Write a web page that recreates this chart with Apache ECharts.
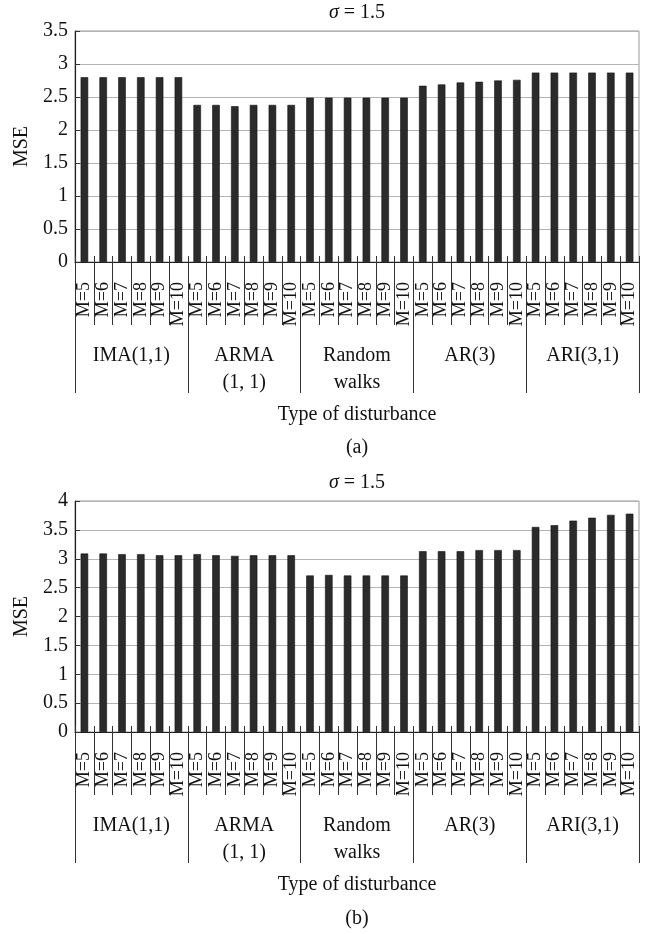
<!DOCTYPE html>
<html>
<head>
<meta charset="utf-8">
<script src="https://cdn.jsdelivr.net/npm/echarts@6/dist/echarts.min.js"></script>
<style>
  html, body { margin: 0; padding: 0; background: #fff; }
  #chart { width: 647px; height: 934px; }
</style>
</head>
<body>
<div id="chart"></div>
<script>
// data
const mLabels = ['M=5', 'M=6', 'M=7', 'M=8', 'M=9', 'M=10'];
const disturbances = ['IMA(1,1)', 'ARMA\n(1, 1)', 'Random\nwalks', 'AR(3)', 'ARI(3,1)'];
const mseA = [
    2.80, 2.80, 2.80, 2.80, 2.80, 2.80,
    2.38, 2.38, 2.36, 2.38, 2.38, 2.38,
    2.49, 2.49, 2.49, 2.49, 2.49, 2.49,
    2.67, 2.69, 2.72, 2.73, 2.75, 2.76,
    2.87, 2.87, 2.87, 2.87, 2.87, 2.87
];
const mseB = [
    3.09, 3.09, 3.08, 3.08, 3.06, 3.06,
    3.08, 3.06, 3.05, 3.06, 3.06, 3.06,
    2.71, 2.72, 2.71, 2.71, 2.71, 2.71,
    3.13, 3.13, 3.13, 3.15, 3.15, 3.15,
    3.55, 3.58, 3.66, 3.71, 3.76, 3.78
];
const yMaxA = 3.5;
const yMaxB = 4;
const sigmaText = '{i|σ} = 1.5';
const panelLabels = ['(a)', '(b)'];

const FONT = "'Liberation Serif', 'Times New Roman', serif";
const chart = echarts.init(document.getElementById('chart'));

// one slot per bar, names kept unique, label text comes from mLabels
const slots = [];
disturbances.forEach((d, gi) => {
    mLabels.forEach((m, mi) => slots.push(gi + '|' + mi));
});

function xAxesFor(gridIndex) {
    return [{
        // M=.. level
        type: 'category',
        gridIndex: gridIndex,
        position: 'bottom',
        data: slots,
        axisLine: { show: true, onZero: false, lineStyle: { color: '#222', width: 1.2 } },
        axisTick: { show: true, interval: 0, length: 63, lineStyle: { color: '#333', width: 1 } },
        axisLabel: {
            interval: 0,
            rotate: 90,
            margin: 20,
            color: '#111',
            fontFamily: FONT,
            fontSize: 18,
            formatter: v => mLabels[+v.split('|')[1]]
        },
        splitLine: { show: false }
    }, {
        // disturbance level
        type: 'category',
        gridIndex: gridIndex,
        position: 'bottom',
        data: disturbances,
        axisLine: { show: false, onZero: false },
        axisTick: { show: true, interval: 0, length: 131, lineStyle: { color: '#333', width: 1 } },
        axisLabel: {
            interval: 0,
            margin: 80,
            color: '#111',
            fontFamily: FONT,
            fontSize: 20,
            lineHeight: 27
        },
        name: 'Type of disturbance',
        nameLocation: 'middle',
        nameGap: 143,
        nameTextStyle: { color: '#111', fontFamily: FONT, fontSize: 20 },
        splitLine: { show: false }
    }, {
        // short ticks poking above the baseline
        type: 'category',
        gridIndex: gridIndex,
        position: 'bottom',
        data: slots,
        axisLine: { show: false, onZero: false },
        axisTick: { show: true, inside: true, interval: 0, length: 6, lineStyle: { color: '#333', width: 1 } },
        axisLabel: { show: false },
        splitLine: { show: false }
    }];
}

function yAxisFor(gridIndex, max) {
    return {
        type: 'value',
        gridIndex: gridIndex,
        min: 0,
        max: max,
        interval: 0.5,
        name: 'MSE',
        nameLocation: 'middle',
        nameGap: 42,
        nameRotate: 90,
        nameTextStyle: { color: '#111', fontFamily: FONT, fontSize: 20 },
        axisLine: { show: true, lineStyle: { color: '#222', width: 1.2 } },
        axisTick: { show: true, inside: true, length: 5, lineStyle: { color: '#333' } },
        axisLabel: { color: '#111', fontFamily: FONT, fontSize: 20, margin: 7 },
        splitLine: { show: true, lineStyle: { color: '#b4b4b4', width: 1 } }
    };
}

function barSeries(axisBase, gridIndex, values) {
    return {
        type: 'bar',
        xAxisIndex: axisBase,
        yAxisIndex: gridIndex,
        data: values,
        barWidth: '40%',
        itemStyle: { color: '#2b2b2b', borderColor: '#111', borderWidth: 0.6 },
        emphasis: { disabled: true },
        animation: false
    };
}

function caption(x, y, text) {
    return {
        type: 'text',
        x: x,
        y: y,
        style: {
            text: text,
            fill: '#111',
            fontFamily: FONT,
            fontSize: 20,
            align: 'center',
            verticalAlign: 'middle',
            textAlign: 'center',
            textVerticalAlign: 'middle',
            rich: { i: { fontStyle: 'italic', fontFamily: FONT, fontSize: 20, fill: '#111' } }
        }
    };
}

const gridStyle = {
    left: 75,
    right: 8,
    height: 231,
    containLabel: false,
    outerBoundsMode: 'none',
    show: true,
    borderColor: '#999',
    borderWidth: 1,
    backgroundColor: 'transparent'
};

const option = {
    animation: false,
    backgroundColor: '#fff',
    grid: [
        Object.assign({ top: 31 }, gridStyle),
        Object.assign({ top: 501 }, gridStyle)
    ],
    xAxis: xAxesFor(0).concat(xAxesFor(1)),
    yAxis: [yAxisFor(0, yMaxA), yAxisFor(1, yMaxB)],
    series: [
        barSeries(0, 0, mseA),
        barSeries(3, 1, mseB)
    ],
    graphic: [
        caption(357, 13, sigmaText),
        caption(357, 448, panelLabels[0]),
        caption(357, 483, sigmaText),
        caption(357, 919, panelLabels[1])
    ]
};

chart.setOption(option);
</script>
</body>
</html>
